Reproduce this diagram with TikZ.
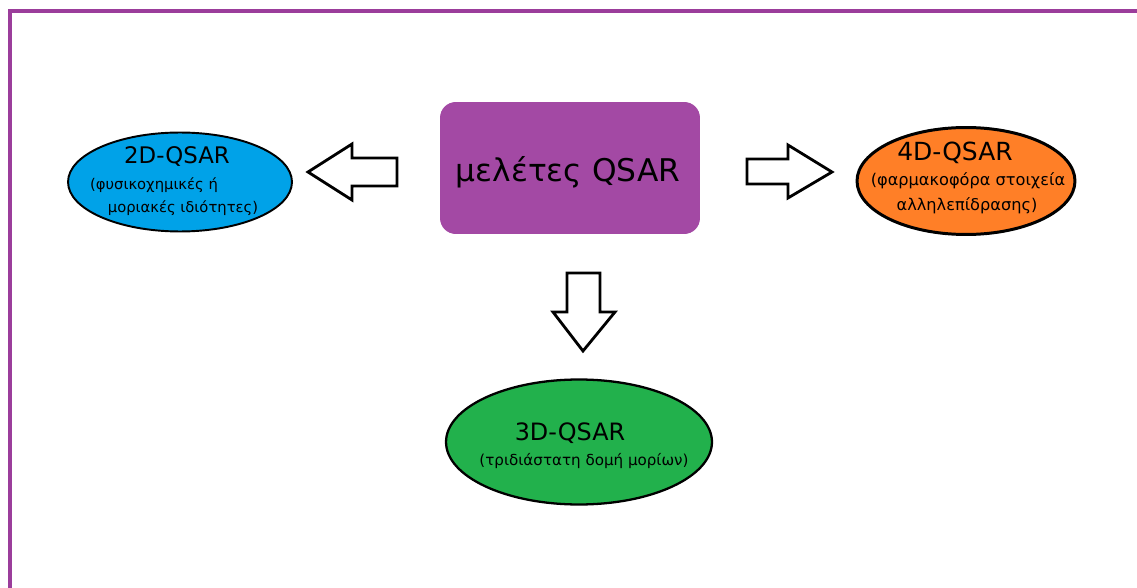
\documentclass[tikz,border=0pt]{standalone}
\usepackage{fontspec}
\setmainfont{DejaVu Sans}
\usepackage{xcolor}
\usetikzlibrary{shapes.geometric, positioning}

\definecolor{framepurple}{HTML}{9B3D9B}
\definecolor{boxpurple}{HTML}{A349A4}
\definecolor{blue2d}{HTML}{00A2E8}
\definecolor{orange4d}{HTML}{FF7F27}
\definecolor{green3d}{HTML}{22B14C}

\begin{document}
\begin{tikzpicture}[x=0.02cm, y=-0.02cm,
    blob/.style={ellipse, draw, inner sep=0pt},
    head/.style={font=\fontsize{13}{15}\selectfont},
    small/.style={font=\fontsize{8.4}{10}\selectfont},
    blockarrow/.style={draw, line width=1.6pt, fill=white, line join=miter}]
          \useasboundingbox (0,0) rectangle (1137,588);

          % frame, cut at right and bottom
          \draw[framepurple, line width=2.2pt] (10,588) -- (10,11) -- (1137,11);

          % centre box
          \node[rounded corners=9pt, fill=boxpurple, minimum width=5.2cm, minimum height=2.64cm] (qsar) at (570,168) {};
          \node[font=\fontsize{17.8}{20}\selectfont] (qsart) at (568,172) {μελέτες QSAR};

          % the three kinds
          \node[blob, fill=blue2d, line width=1.1pt, minimum width=4.48cm, minimum height=1.98cm] (d2) at (180,182) {};
          \node[head] (d2t) at (177,156) {2D-QSAR};
          \node[small] (d2a) at (154,185) {(φυσικοχημικές ή};
          \node[small] (d2b) at (183,208) {μοριακές ιδιότητες)};

          \node[blob, fill=orange4d, line width=1.7pt, minimum width=4.36cm, minimum height=2.14cm] (d4) at (966,181) {};
          \node[head, font=\fontsize{14.2}{16}\selectfont] (d4t) at (955,153) {4D-QSAR};
          \node[small, font=\fontsize{9.2}{11}\selectfont] (d4a) at (968,181) {(φαρμακοφόρα στοιχεία};
          \node[small, font=\fontsize{9.2}{11}\selectfont] (d4b) at (967,206) {αλληλεπίδρασης)};

          \node[blob, fill=green3d, line width=1.3pt, minimum width=5.32cm, minimum height=2.5cm] (d3) at (579,442) {};
          \node[head, font=\fontsize{13.6}{15}\selectfont] (d3t) at (570,433) {3D-QSAR};
          \node[small, font=\fontsize{8.6}{10}\selectfont] (d3a) at (584,461) {(τριδιάστατη δομή μορίων)};

          % block arrows
          \draw[blockarrow] (308,172) -- (352,144) -- (352,158) -- (397,158) -- (397,186) -- (352,186) -- (352,200) -- cycle;
          \draw[blockarrow] (832,172) -- (788,145) -- (788,159) -- (747,159) -- (747,184) -- (788,184) -- (788,198) -- cycle;
          \draw[blockarrow] (583,351) -- (553,312) -- (567,312) -- (567,273) -- (600,273) -- (600,312) -- (615,312) -- cycle;
        \end{tikzpicture}
\end{document}
